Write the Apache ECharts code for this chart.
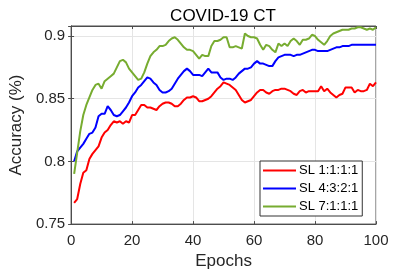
<!DOCTYPE html>
<html><head><meta charset="utf-8">
<script src="https://cdn.jsdelivr.net/npm/echarts@6/dist/echarts.min.js"></script>
<style>html,body{margin:0;padding:0;background:#fff}#c{width:415px;height:275px}</style>
</head><body><div id="c"></div>
<script>
const epochs = Array.from({length:100},(_,i)=>i+1);
const sl1111 = [0.767,0.770,0.782,0.791,0.793,0.802,0.806,0.809,0.812,0.819,
0.823,0.825,0.829,0.832,0.831,0.832,0.830,0.832,0.831,0.837,
0.837,0.841,0.845,0.845,0.843,0.843,0.842,0.841,0.844,0.846,
0.847,0.847,0.846,0.844,0.844,0.846,0.849,0.851,0.851,0.852,
0.851,0.848,0.848,0.849,0.850,0.852,0.855,0.858,0.860,0.863,
0.862,0.861,0.859,0.857,0.853,0.849,0.847,0.848,0.849,0.852,
0.855,0.857,0.857,0.855,0.854,0.856,0.857,0.857,0.858,0.858,
0.857,0.856,0.854,0.853,0.856,0.857,0.855,0.856,0.856,0.856,
0.856,0.860,0.856,0.858,0.855,0.853,0.851,0.853,0.854,0.859,
0.859,0.859,0.855,0.857,0.856,0.856,0.857,0.862,0.860,0.863];
const sl4321 = [0.800,0.808,0.811,0.814,0.818,0.822,0.823,0.827,0.836,0.838,
0.838,0.844,0.841,0.837,0.836,0.837,0.840,0.843,0.847,0.852,
0.855,0.859,0.861,0.864,0.867,0.866,0.863,0.861,0.857,0.855,
0.855,0.856,0.858,0.862,0.866,0.869,0.872,0.874,0.872,0.869,
0.869,0.869,0.868,0.871,0.874,0.871,0.871,0.871,0.867,0.865,
0.866,0.866,0.865,0.867,0.870,0.872,0.874,0.874,0.875,0.878,
0.880,0.878,0.878,0.877,0.876,0.876,0.880,0.883,0.884,0.885,
0.885,0.885,0.884,0.885,0.885,0.886,0.887,0.888,0.889,0.889,
0.888,0.888,0.888,0.888,0.889,0.890,0.891,0.891,0.892,0.892,
0.892,0.893,0.893,0.893,0.893,0.893,0.893,0.893,0.893,0.893];
const sl7111 = [0.790,0.807,0.824,0.837,0.845,0.851,0.857,0.861,0.862,0.858,
0.864,0.866,0.868,0.870,0.875,0.880,0.881,0.879,0.874,0.871,
0.868,0.865,0.866,0.871,0.878,0.884,0.887,0.889,0.892,0.892,
0.893,0.896,0.898,0.899,0.897,0.894,0.891,0.889,0.889,0.888,
0.885,0.882,0.885,0.884,0.884,0.892,0.896,0.896,0.897,0.899,
0.899,0.891,0.891,0.892,0.891,0.890,0.902,0.900,0.899,0.899,
0.898,0.893,0.889,0.893,0.892,0.889,0.887,0.894,0.892,0.894,
0.892,0.896,0.898,0.896,0.893,0.897,0.897,0.898,0.901,0.900,
0.897,0.895,0.893,0.896,0.900,0.902,0.903,0.904,0.905,0.905,
0.905,0.906,0.906,0.907,0.907,0.906,0.905,0.906,0.905,0.907];
const seriesNames = ['SL 1:1:1:1','SL 4:3:2:1','SL 7:1:1:1'];
const colors = ['#ff0000','#0000ff','#77ac30'];
const xTicks = [0,20,40,60,80,100];
const yTicks = [0.75,0.8,0.85,0.9];

const FONT = 'Liberation Sans, Arial, Helvetica, sans-serif';
const TXT = '#262626';
const AX = '#4d4d4d';
const chart = echarts.init(document.getElementById('c'), null, {renderer:'canvas'});
const pairs = arr => epochs.map((e,i)=>[e, arr[i]]);
const allData = [sl1111, sl4321, sl7111];

chart.setOption({
  animation:false,
  backgroundColor:'#fff',
  title:{text:'COVID-19 CT', left:218, top:3, textAlign:'center',
    textStyle:{fontFamily:FONT, fontSize:17, fontWeight:'normal', color:'#000'}},
  grid:{left:60, right:39, top:26, bottom:48, show:true, borderColor:AX, borderWidth:1},
  legend:{orient:'vertical', left:260, top:161, width:107,
    itemWidth:33, itemHeight:2, itemGap:5, padding:[3,4,3,3],
    icon:'rect', borderColor:'#333', borderWidth:1, backgroundColor:'#fff',
    textStyle:{fontFamily:FONT, fontSize:13, color:'#000', padding:[0,0,0,-2]},
    data:seriesNames},
  xAxis:[{type:'value', min:0, max:100, interval:20,
    name:'Epochs', nameLocation:'middle', nameGap:28,
    nameTextStyle:{fontFamily:FONT, fontSize:17, color:TXT},
    axisLine:{show:true, lineStyle:{color:AX}},
    axisTick:{show:true, inside:true, length:3, lineStyle:{color:AX}},
    axisLabel:{fontFamily:FONT, fontSize:15, color:TXT, margin:9,
      formatter:v=>xTicks.includes(v)?String(v):''},
    splitLine:{show:true, lineStyle:{color:'#e5e5e5'}}},
   {type:'value', position:'top', min:0, max:100, interval:20,
    axisLine:{show:true, lineStyle:{color:AX}},
    axisTick:{show:true, inside:true, length:3, lineStyle:{color:AX}},
    axisLabel:{show:false}, splitLine:{show:false}}],
  yAxis:[{type:'value', min:0.75, max:0.908, interval:0.05,
    name:'Accuracy (%)', nameLocation:'middle', nameGap:38,
    nameTextStyle:{fontFamily:FONT, fontSize:17, color:TXT},
    axisLine:{show:true, lineStyle:{color:AX}},
    axisTick:{show:true, inside:true, length:3, lineStyle:{color:AX}},
    axisLabel:{fontFamily:FONT, fontSize:15, color:TXT, margin:6, showMaxLabel:false,
      formatter:v=>{const t=yTicks.find(y=>Math.abs(y-v)<1e-6);return t===undefined?'':String(t);}},
    splitLine:{show:true, lineStyle:{color:'#e5e5e5'}}},
   {type:'value', position:'right', min:0.75, max:0.908, interval:0.05,
    axisLine:{show:true, lineStyle:{color:AX}},
    axisTick:{show:true, inside:true, length:3, lineStyle:{color:AX}},
    axisLabel:{show:false}, splitLine:{show:false}}],
  series: seriesNames.map((n,i)=>({
    name:n, type:'line', xAxisIndex:0, yAxisIndex:0,
    data:pairs(allData[i]), showSymbol:false, symbol:'none',
    lineStyle:{color:colors[i], width:2}, itemStyle:{color:colors[i]},
    z:2+i
  }))
});
</script></body></html>
